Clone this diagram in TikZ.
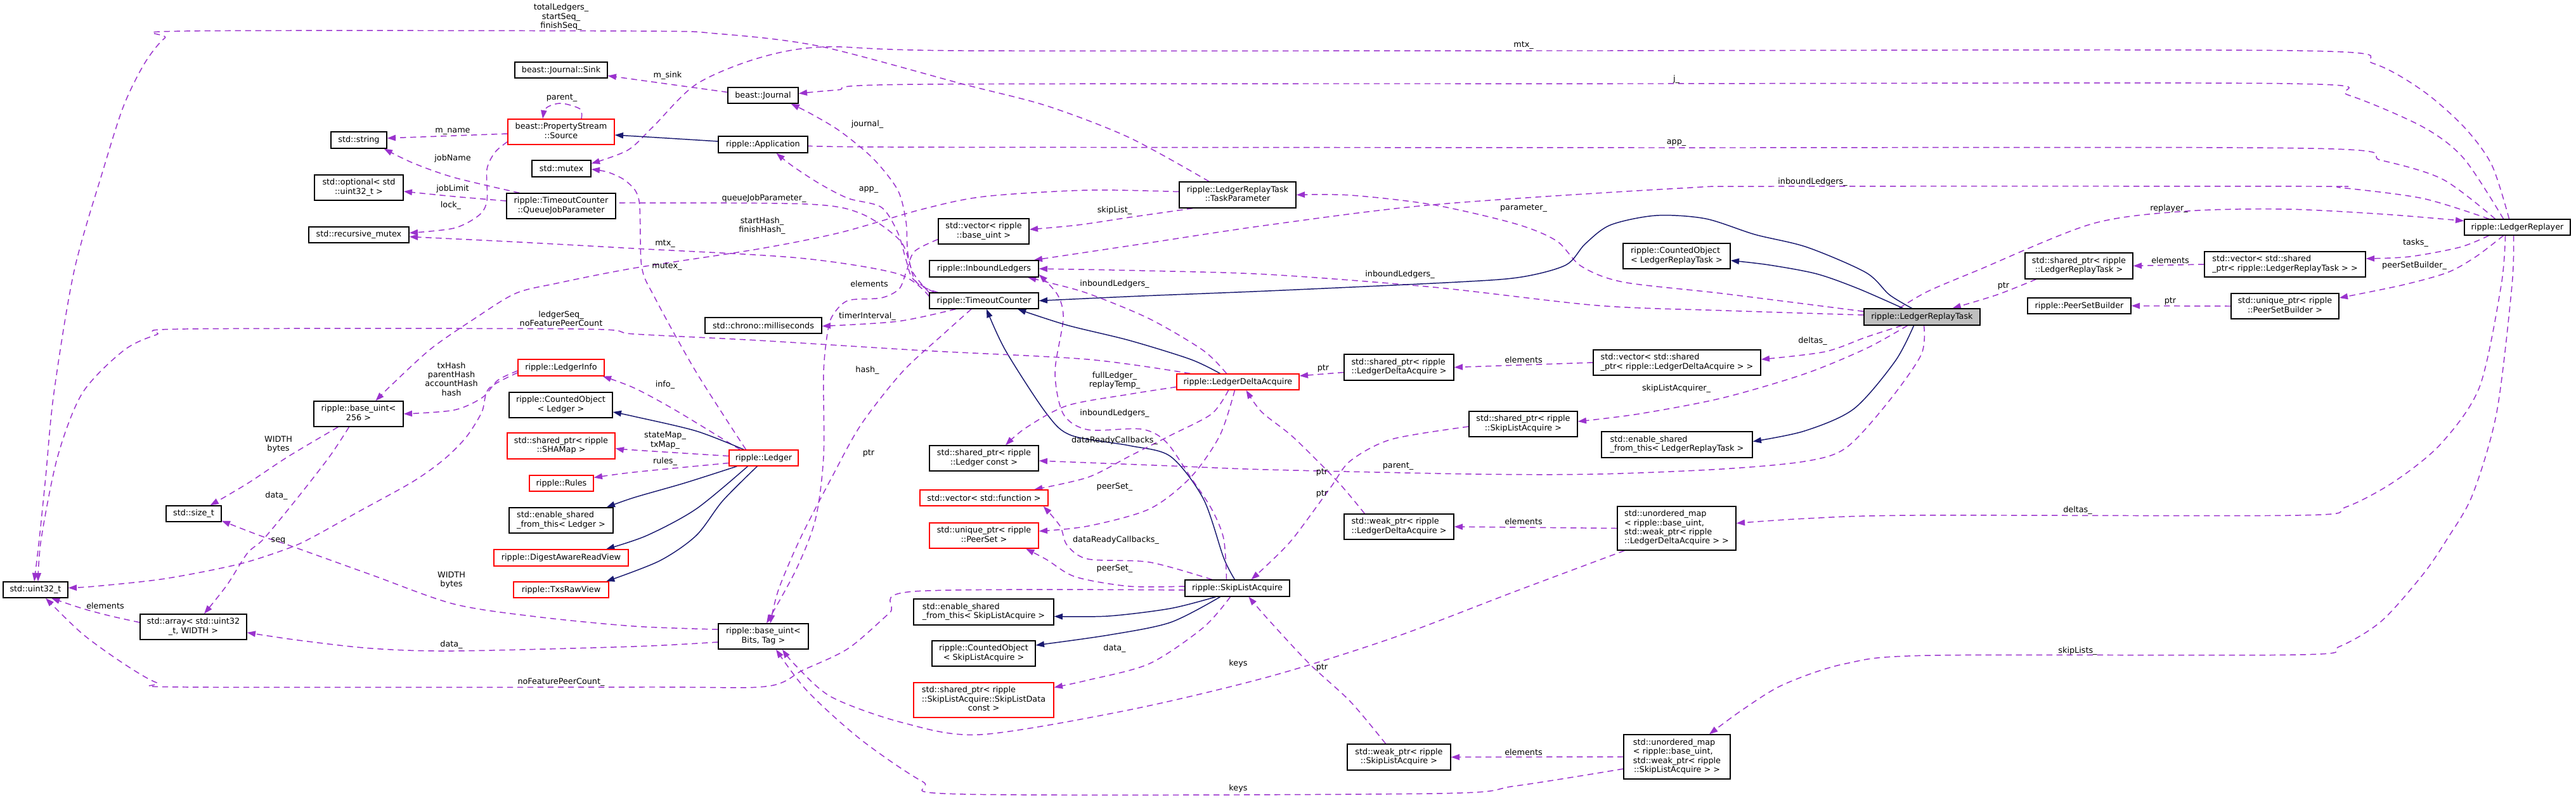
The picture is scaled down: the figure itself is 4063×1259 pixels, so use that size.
\documentclass[tikz,border=0pt]{standalone}
\usepackage{fontspec}
\setmainfont{DejaVu Sans}
\usetikzlibrary{arrows.meta,calc}
\definecolor{dorch}{HTML}{9A32CD}
\definecolor{navyc}{HTML}{191970}
\definecolor{grayf}{HTML}{BFBFBF}
\pgfdeclarelayer{bg}
\pgfsetlayers{bg,main}
\newcommand\ml[2]{\begin{tabular}{@{}l@{}}#1\\\multicolumn{1}{@{}c@{}}{#2}\end{tabular}}
\newcommand\nd[7][box]{\node[#1, minimum width={(#5-#3)*0.75pt}, minimum height={(#6-#4)*0.75pt}] (#2) at ({(#3+#5)/2},{(#4+#6)/2}) {#7};}
\tikzset{
  box/.style={draw=black, fill=white, line width=1pt, inner sep=0pt, font=\fontsize{9.6}{10.8}\selectfont},
  rbox/.style={box, draw=red},
  gbox/.style={box, fill=grayf},
  lbl/.style={inner sep=0pt, align=center, font=\fontsize{9.6}{10.8}\selectfont},
  dep/.style={draw=dorch, line width=1.1pt, dash pattern=on 7pt off 5pt, -{Triangle[length=10pt,width=7pt]}},
  inh/.style={draw=navyc, line width=1.1pt, -{Triangle[length=10pt,width=7pt]}},
}
\begin{document}
\begin{tikzpicture}[x=0.75pt,y=-0.75pt]
\useasboundingbox (0,0) rectangle (4063,1259);
\begin{pgfonlayer}{bg}
\fill[white] (0,0) rectangle (4063,1259);
\end{pgfonlayer}
% nodes
\nd{uint}{5}{918}{107}{943}{std::uint32\_t}
\nd{array}{221}{969}{389}{1009}{\ml{std::array< std::uint32}{\_t, WIDTH >}}
\nd{sizet}{262}{798}{349}{823}{std::size\_t}
\nd{bu256}{495}{633}{636}{673}{\ml{ripple::base\_uint<}{256 >}}
\nd{str}{522}{208}{610}{234}{std::string}
\nd{opt}{496}{276}{636}{316}{\ml{std::optional< std}{::uint32\_t >}}
\nd{rmutex}{487}{358}{645}{383}{std::recursive\_mutex}
\nd{sink}{812}{98}{958}{123}{beast::Journal::Sink}
\nd[rbox]{src}{801}{188}{969}{228}{\ml{beast::PropertyStream}{::Source}}
\nd{mutex}{839}{253}{932}{279}{std::mutex}
\nd{qjp}{799}{305}{971}{345}{\ml{ripple::TimeoutCounter}{::QueueJobParameter}}
\nd[rbox]{linfo}{817}{567}{953}{593}{ripple::LedgerInfo}
\nd{colg}{803}{619}{966}{659}{\ml{ripple::CountedObject}{< Ledger >}}
\nd[rbox]{shamap}{800}{683}{970}{724}{\ml{std::shared\_ptr< ripple}{::SHAMap >}}
\nd[rbox]{rules}{835}{750}{936}{775}{ripple::Rules}
\nd{esl}{803}{801}{967}{841}{\ml{std::enable\_shared}{\_from\_this< Ledger >}}
\nd[rbox]{darv}{779}{867}{991}{893}{ripple::DigestAwareReadView}
\nd[rbox]{trv}{810}{918}{960}{943}{ripple::TxsRawView}
\nd{journal}{1148}{138}{1259}{163}{beast::Journal}
\nd{app}{1133}{215}{1274}{241}{ripple::Application}
\nd{ms}{1112}{501}{1296}{526}{std::chrono::milliseconds}
\nd[rbox]{ledger}{1150}{710}{1259}{735}{ripple::Ledger}
\nd{bubt}{1133}{984}{1275}{1024}{\ml{ripple::base\_uint<}{Bits, Tag >}}
\nd{vbu}{1480}{345}{1623}{385}{\ml{std::vector< ripple}{::base\_uint >}}
\nd{il}{1466}{411}{1638}{437}{ripple::InboundLedgers}
\nd{tc}{1466}{462}{1638}{487}{ripple::TimeoutCounter}
\nd{slc}{1466}{703}{1638}{743}{\ml{std::shared\_ptr< ripple}{::Ledger const >}}
\nd[rbox]{vf}{1451}{773}{1653}{798}{std::vector< std::function >}
\nd[rbox]{ups}{1466}{825}{1638}{865}{\ml{std::unique\_ptr< ripple}{::PeerSet >}}
\nd{esla}{1441}{945}{1662}{986}{\ml{std::enable\_shared}{\_from\_this< SkipListAcquire >}}
\nd{cosla}{1470}{1011}{1633}{1051}{\ml{ripple::CountedObject}{< SkipListAcquire >}}
\nd[rbox]{spd}{1441}{1077}{1662}{1132}{\ml{std::shared\_ptr< ripple\\::SkipListAcquire::SkipListData}{const >}}
\nd{tp}{1860}{287}{2044}{328}{\ml{ripple::LedgerReplayTask}{::TaskParameter}}
\nd[rbox]{lda}{1856}{590}{2049}{615}{ripple::LedgerDeltaAcquire}
\nd{sla}{1869}{915}{2034}{941}{ripple::SkipListAcquire}
\nd{splda}{2120}{559}{2293}{600}{\ml{std::shared\_ptr< ripple}{::LedgerDeltaAcquire >}}
\nd{wplda}{2120}{811}{2293}{851}{\ml{std::weak\_ptr< ripple}{::LedgerDeltaAcquire >}}
\nd{wpsla}{2125}{1174}{2288}{1215}{\ml{std::weak\_ptr< ripple}{::SkipListAcquire >}}
\nd{spsla}{2317}{649}{2488}{689}{\ml{std::shared\_ptr< ripple}{::SkipListAcquire >}}
\nd{vlda}{2513}{552}{2777}{592}{\ml{std::vector< std::shared}{\_ptr< ripple::LedgerDeltaAcquire > >}}
\nd{eslrt}{2526}{681}{2764}{722}{\ml{std::enable\_shared}{\_from\_this< LedgerReplayTask >}}
\nd{umlda}{2551}{799}{2738}{868}{\ml{std::unordered\_map\\< ripple::base\_uint,\\ std::weak\_ptr< ripple}{::LedgerDeltaAcquire > >}}
\nd{umsla}{2561}{1159}{2729}{1229}{\ml{std::unordered\_map\\< ripple::base\_uint,\\ std::weak\_ptr< ripple}{::SkipListAcquire > >}}
\nd{colrt}{2560}{384}{2729}{424}{\ml{ripple::CountedObject}{< LedgerReplayTask >}}
\nd[gbox]{lrt}{2940}{487}{3123}{513}{ripple::LedgerReplayTask}
\nd{splrt}{3194}{399}{3364}{440}{\ml{std::shared\_ptr< ripple}{::LedgerReplayTask >}}
\nd{psb}{3198}{470}{3361}{495}{ripple::PeerSetBuilder}
\nd{vlrt}{3477}{397}{3731}{437}{\ml{std::vector< std::shared}{\_ptr< ripple::LedgerReplayTask > >}}
\nd{upsb}{3519}{463}{3689}{503}{\ml{std::unique\_ptr< ripple}{::PeerSetBuilder >}}
\nd{lr}{3887}{346}{4054}{371}{ripple::LedgerReplayer}
% edges
\begin{pgfonlayer}{bg}
\draw[dep] plot[smooth] coordinates {($(lr.north)+(-13,0)$) (3930,260) (3886,200) (3821,143) (3743,100) (3626,80) (2500,80) (1520,80) (1300,74) (1195,92) (1098,133) (1030,200) (990,237) ($(mutex.east)+(0,-8)$)};
\draw[dep] plot[smooth] coordinates {($(lr.north)+(-22,0)$) (3886,250) (3821,200) (3704,150) (3613,132) (2600,132) (1455,133) (1320,142) ($(journal.east)+(0,-3)$)};
\draw[dep] plot[smooth] coordinates {($(lr.north)+(-35,0)$) (3853,283) (3756,253) (3640,234) (2600,233) (1400,232) (app.east)};
\draw[dep] plot[smooth] coordinates {($(lr.north)+(-45,0)$) (3821,313) (3691,296) (3640,294) (2800,294) (2650,297) (2260,323) (2000,355) (1800,385) ($(il.north east)+(-8,0)$)};
\draw[dep] plot[smooth] coordinates {($(lrt.north)+(-36,0)$) (3040,460) (3118,427) (3300,353) (3450,333) (3606,330) (3760,338) ($(lr.west)+(0,-10)$)};
\draw[dep] plot[smooth] coordinates {($(lr.south)+(-45,0)$) (3880,390) (3800,405) ($(vlrt.east)+(0,-9)$)};
\draw[dep] (vlrt.west) -- (splrt.east);
\draw[dep] plot[smooth] coordinates {($(splrt.south west)+(18,0)$) (3150,465) ($(lrt.north)+(48,0)$)};
\draw[dep] plot[smooth] coordinates {($(lr.south)+(-22,0)$) (3905,405) (3860,430) (3788,450) ($(upsb.east)+(0,-13)$)};
\draw[dep] (upsb.west) -- (psb.east);
\draw[dep] plot[smooth] coordinates {($(lr.south)+(-19,0)$) (3945,450) (3911,610) (3850,700) (3776,760) (3700,800) (3626,813) (3020,813) (2850,818) ($(umlda.east)+(0,-8)$)};
\draw[dep] plot[smooth] coordinates {($(lr.south)+(-6,0)$) (3962,450) (3938,650) (3900,780) (3860,850) (3821,907) (3756,980) (3690,1020) (3626,1033) (3046,1034) (2911,1047) (2813,1080) (2748,1120) ($(umsla.north)+(51,0)$)};
\draw[dep] plot[smooth] coordinates {($(lrt.west)+(0,-3)$) (2720,490) (2520,482) (2260,453) (2000,433) (1800,427) (il.east)};
\draw[dep] plot[smooth] coordinates {($(lrt.north west)+(0,5)$) (2716,463) (2560,445) (2494,420) (2455,380) (2390,353) (2260,323) (2130,308) (tp.east)};
\draw[inh] plot[smooth] coordinates {($(lrt.north)+(-16,0)$) (2980,465) (2943,430) (2850,390) (2768,370) (2690,345) (2612,340) (2540,355) (2500,385) (2470,418) (2400,437) (2299,445) (2000,459) (1800,467) (tc.east)};
\draw[inh] plot[smooth] coordinates {($(lrt.north)+(-30,0)$) (2930,455) (2865,432) (2790,418) ($(colrt.east)+(0,7)$)};
\draw[dep] plot[smooth] coordinates {($(lrt.south)+(-32,0)$) (2943,532) (2878,555) ($(vlda.east)+(0,-5)$)};
\draw[dep] plot[smooth] coordinates {($(lrt.south)+(-23,0)$) (2943,550) (2846,590) (2716,628) (2585,653) ($(spsla.east)+(0,-4)$)};
\draw[inh] plot[smooth] coordinates {($(lrt.south)+(-13,0)$) (2989,570) (2924,645) (2846,680) ($(eslrt.east)+(0,-5)$)};
\draw[dep] plot[smooth] coordinates {($(lrt.south)+(3,0)$) (3030,560) (2976,637) (2911,707) (2846,728) (2716,740) (2520,748) (2325,748) (2000,741) (1846,735) ($(slc.east)+(0,4)$)};
\draw[dep] (vlda.west) -- (splda.east);
\draw[dep] ($(splda.west)+(0,8)$) -- ($(lda.east)+(0,-9.5)$);
\draw[dep] (umlda.west) -- (wplda.east);
\draw[dep] plot[smooth] coordinates {($(wplda.north west)+(33,0)$) (2110,760) (2040,690) (1990,650) ($(lda.south)+(13,0)$)};
\draw[dep] plot[smooth] coordinates {($(spsla.west)+(0,4)$) (2195,693) (2130,727) (2098,770) (2039,850) (2000,890) ($(sla.north)+(22,0)$)};
\draw[dep] (umsla.west) -- (wpsla.east);
\draw[dep] plot[smooth] coordinates {($(wpsla.north)+(-21,0)$) (2130,1107) (2065,1047) (2000,977) ($(sla.south)+(18,0)$)};
\draw[dep] plot[smooth] coordinates {($(umlda.south west)+(12,0)$) (2390,933) (2195,1007) (2000,1068) (1781,1120) (1546,1159) (1423,1140) (1312,1100) (1255,1050) ($(bubt.south)+(30,0)$)};
\draw[dep] plot[smooth] coordinates {($(umsla.west)+(0,19)$) (2390,1240) (2260,1252) (1520,1253) (1455,1233) (1358,1167) (1273,1090) ($(bubt.south)+(20,0)$)};
\draw[inh] plot[smooth] coordinates {($(sla.north)+(-4,0)$) (1930,880) (1898,787) (1846,720) (1781,703) (1690,687) (1651,653) (1586,553) ($(tc.south)+(4,0)$)};
\draw[inh] plot[smooth] coordinates {($(sla.south)+(-34,0)$) (1846,960) (1748,972) ($(esla.east)+(0,7)$)};
\draw[inh] plot[smooth] coordinates {($(sla.south)+(-27,0)$) (1846,982) (1748,1002) ($(cosla.east)+(0,-13)$)};
\draw[dep] plot[smooth] coordinates {($(sla.south)+(-11,0)$) (1898,990) (1813,1047) (1716,1073) ($(spd.east)+(0,-20)$)};
\draw[dep] plot[smooth] coordinates {($(sla.west)+(0,-3)$) (1781,925) (1696,910) (1651,883) ($(ups.south)+(66,0)$)};
\draw[dep] plot[smooth] coordinates {($(sla.north)+(-40,0)$) (1813,887) (1716,882) (1683,860) (1672,830) ($(vf.south east)+(-8,0)$)};
\draw[dep] plot[smooth] coordinates {($(sla.north)+(-17,0)$) (1930,850) (1911,803) (1878,753) (1839,697) (1800,677) (1716,678) (1677,653) (1664,587) (1677,503) (1668,465) ($(il.east)+(0,9)$)};
\draw[inh] plot[smooth] coordinates {($(lda.north)+(-28,0)$) (1878,567) (1781,537) (1683,513) ($(tc.south)+(53,0)$)};
\draw[dep] plot[smooth] coordinates {($(lda.north)+(-18,0)$) (1898,553) (1813,503) (1716,463) (1651,445) ($(il.south)+(69,0)$)};
\draw[dep] plot[smooth] coordinates {($(lda.north west)+(22,0)$) (1716,567) (1455,553) (1195,537) (1000,527) (911,519) (293,519) (247,528) (195,553) (130,620) (91,720) (65,850) ($(uint.north)+(4,0)$)};
\draw[dep] plot[smooth] coordinates {($(lda.west)+(0,8)$) (1781,622) (1683,640) (1618,675) ($(slc.north)+(34,0)$)};
\draw[dep] plot[smooth] coordinates {($(lda.south)+(-15,0)$) (1911,653) (1846,687) (1781,720) (1716,753) ($(vf.north)+(79,0)$)};
\draw[dep] plot[smooth] coordinates {($(lda.south)+(-5,0)$) (1924,687) (1878,753) (1813,803) (1716,830) ($(ups.east)+(0,-7)$)};
\draw[dep] plot[smooth] coordinates {(tc.north west) (1440,430) (1420,380) (1358,337) (1273,322) (1000,320) ($(qjp.east)+(0,-4)$)};
\draw[dep] plot[smooth] coordinates {($(tc.north west)+(0,6)$) (1416,432) (1260,407) (1000,392) (800,381) ($(rmutex.east)+(0,3)$)};
\draw[dep] plot[smooth] coordinates {($(tc.north west)+(8,0)$) (1440,440) (1429,410) (1416,367) (1390,327) (1338,313) (1293,290) (1250,262) ($(app.south)+(21,0)$)};
\draw[dep] plot[smooth] coordinates {($(tc.north west)+(14,0)$) (1445,445) (1432,400) (1429,350) (1416,300) (1377,250) (1325,207) (1280,180) ($(journal.south)+(44,0)$)};
\draw[dep] plot[smooth] coordinates {($(tc.south west)+(42,0)$) (1416,507) ($(ms.east)+(0,1)$)};
\draw[dep] plot[smooth] coordinates {($(tc.south)+(-20,0)$) (1488,527) (1423,587) (1358,670) (1312,753) (1262,850) (1228,930) ($(bubt.north)+(11,0)$)};
\draw[dep] plot[smooth] coordinates {($(vbu.south west)+(0,-8)$) (1442,397) (1429,430) (1418,456) (1390,470) (1338,474) (1315,495) (1306,520) (1299,587) (1299,720) (1286,820) (1255,900) ($(bubt.north)+(5,0)$)};
\draw[dep] plot[smooth] coordinates {($(tp.north)+(-45,0)$) (1781,217) (1651,167) (1520,133) (1293,73) (1130,53) (1000,49) (293,49) (260,60) (228,100) (195,167) (163,267) (117,427) (85,620) (72,753) (62,850) ($(uint.north)+(-2,0)$)};
\draw[dep] plot[smooth] coordinates {($(tp.west)+(0,-5)$) (1716,300) (1553,310) (1455,330) (1325,367) (1195,393) (1000,423) (878,447) (813,463) (748,503) (680,550) (620,605) ($(bu256.north)+(27,0)$)};
\draw[dep] plot[smooth] coordinates {($(tp.south west)+(22,0)$) (1781,343) (1700,355) ($(vbu.east)+(0,-3)$)};
\draw[inh] plot[smooth] coordinates {($(app.west)+(0,-5)$) (1020,216) ($(src.east)+(0,5)$)};
\draw[dep] ($(journal.west)+(0,-5)$) -- ($(sink.east)+(0,9)$);
\draw[dep] ($(src.west)+(0,3)$) -- ($(str.east)+(0,-3)$);
\draw[dep] plot[smooth] coordinates {($(src.north)+(32,0)$) (915,172) (885,163) (862,170) ($(src.north)+(-29,0)$)};
\draw[dep] plot[smooth] coordinates {($(src.south west)+(0,-5)$) (781,240) (768,267) (768,317) (755,340) (716,360) ($(rmutex.east)+(0,-3)$)};
\draw[dep] plot[smooth] coordinates {($(qjp.north west)+(21,0)$) (716,280) (651,257) ($(str.south east)+(-5,0)$)};
\draw[dep] plot[smooth] coordinates {($(qjp.west)+(0,-8)$) (716,310) ($(opt.east)+(0,6)$)};
\draw[dep] plot[smooth] coordinates {($(ledger.north)+(-28,0)$) (1098,587) (1033,470) (1012,420) (1008,317) (989,287) (960,272) ($(mutex.east)+(0,1)$)};
\draw[dep] plot[smooth] coordinates {($(ledger.north west)+(18,0)$) (1065,647) (1000,612) ($(linfo.south east)+(-3,0)$)};
\draw[dep] plot[smooth] coordinates {($(ledger.west)+(0,-3)$) (1000,710) ($(shamap.east)+(0,4)$)};
\draw[dep] plot[smooth] coordinates {($(ledger.west)+(0,8)$) (1000,745) ($(rules.east)+(0,-9)$)};
\draw[inh] plot[smooth] coordinates {($(ledger.north west)+(24,0)$) (1098,680) (1000,657) ($(colg.east)+(0,11)$)};
\draw[inh] plot[smooth] coordinates {($(ledger.south west)+(13,0)$) (1080,762) (1000,785) ($(esl.north east)+(-11,0)$)};
\draw[inh] plot[smooth] coordinates {($(ledger.south west)+(30,0)$) (1098,803) (1020,845) ($(darv.north)+(71,0)$)};
\draw[inh] plot[smooth] coordinates {($(ledger.south west)+(45,0)$) (1140,790) (1098,845) (1040,885) ($(trv.north)+(71,0)$)};
\draw[dep] plot[smooth] coordinates {($(linfo.west)+(0,5)$) (785,600) (761,627) (716,647) (bu256.east)};
\draw[dep] plot[smooth] coordinates {($(linfo.west)+(0,8)$) (771,613) (760,650) (735,690) (700,725) (651,760) (566,807) (494,847) (455,865) (377,890) (260,913) (150,925) ($(uint.east)+(0,-3)$)};
\draw[dep] plot[smooth] coordinates {($(bu256.south west)+(39,0)$) (455,720) (390,763) ($(sizet.north)+(26,0)$)};
\draw[dep] plot[smooth] coordinates {($(bu256.south)+(-15,0)$) (520,720) (468,787) (416,850) (390,873) (358,923) ($(array.north)+(17,0)$)};
\draw[dep] plot[smooth] coordinates {($(bubt.west)+(0,-11)$) (1000,988) (846,973) (716,953) (586,907) (455,860) (410,845) ($(sizet.south east)+(0,-2)$)};
\draw[dep] plot[smooth] coordinates {($(bubt.west)+(0,9)$) (1000,1020) (716,1027) (586,1023) (470,1010) ($(array.east)+(0,9)$)};
\draw[dep] plot[smooth] coordinates {($(array.west)+(0,-7)$) (175,972) (130,960) ($(uint.south)+(25,0)$)};
\draw[dep] plot[smooth] coordinates {($(sla.west)+(0,3)$) (1442,933) (1403,967) (1338,1023) (1267,1057) (1208,1083) (1020,1084) (293,1084) (247,1077) (195,1047) (130,1000) ($(uint.south)+(16,0)$)};
\end{pgfonlayer}
% labels
\node[lbl] (l1) at (885,27) {totalLedgers\_\\startSeq\_\\finishSeq\_};
\node[lbl] (l2) at (1053,119) {m\_sink};
\node[lbl] (l3) at (886,155) {parent\_};
\node[lbl] (l4) at (714,207) {m\_name};
\node[lbl] (l5) at (714,250) {jobName};
\node[lbl] (l6) at (714,298) {jobLimit};
\node[lbl] (l7) at (711,324) {lock\_};
\node[lbl] (l8) at (1368,196) {journal\_};
\node[lbl] (l9) at (1370,299) {app\_};
\node[lbl] (l10) at (1205,313) {queueJobParameter\_};
\node[lbl] (l11) at (1202,356) {startHash\_\\finishHash\_};
\node[lbl] (l12) at (1049,385) {mtx\_};
\node[lbl] (l13) at (1052,421) {mutex\_};
\node[lbl] (l14) at (1758,332) {skipList\_};
\node[lbl] (l15) at (2403,72) {mtx\_};
\node[lbl] (l16) at (2644,125) {j\_};
\node[lbl] (l17) at (2644,225) {app\_};
\node[lbl] (l18) at (2859,287) {inboundLedgers\_};
\node[lbl] (l19) at (2403,329) {parameter\_};
\node[lbl] (l20) at (3421,329) {replayer\_};
\node[lbl] (l21) at (3810,383) {tasks\_};
\node[lbl] (l22) at (3423,411) {elements};
\node[lbl] (l23) at (3808,419) {peerSetBuilder\_};
\node[lbl] (l24) at (3160,451) {ptr};
\node[lbl] (l25) at (3423,475) {ptr};
\node[lbl] (l26) at (2208,433) {inboundLedgers\_};
\node[lbl] (l27) at (1371,448) {elements};
\node[lbl] (l28) at (1758,448) {inboundLedgers\_};
\node[lbl] (l29) at (1368,499) {timerInterval\_};
\node[lbl] (l30) at (885,503) {ledgerSeq\_\\noFeaturePeerCount};
\node[lbl] (l31) at (1368,584) {hash\_};
\node[lbl] (l32) at (712,598) {txHash\\parentHash\\accountHash\\hash};
\node[lbl] (l33) at (1049,607) {info\_};
\node[lbl] (l34) at (1758,600) {fullLedger\_\\replayTemp\_};
\node[lbl] (l35) at (2403,568) {elements};
\node[lbl] (l36) at (2087,581) {ptr};
\node[lbl] (l37) at (2859,538) {deltas\_};
\node[lbl] (l38) at (2644,613) {skipListAcquirer\_};
\node[lbl] (l39) at (1758,652) {inboundLedgers\_};
\node[lbl] (l40) at (1049,695) {stateMap\_\\txMap\_};
\node[lbl] (l41) at (439,701) {WIDTH\\bytes};
\node[lbl] (l42) at (1758,695) {dataReadyCallbacks\_};
\node[lbl] (l43) at (1370,715) {ptr};
\node[lbl] (l44) at (1049,728) {rules\_};
\node[lbl] (l45) at (2205,736) {parent\_};
\node[lbl] (l46) at (2085,745) {ptr};
\node[lbl] (l47) at (1758,768) {peerSet\_};
\node[lbl] (l48) at (2085,779) {ptr};
\node[lbl] (l49) at (436,782) {data\_};
\node[lbl] (l50) at (3277,805) {deltas\_};
\node[lbl] (l51) at (2403,823) {elements};
\node[lbl] (l52) at (1760,852) {dataReadyCallbacks\_};
\node[lbl] (l53) at (439,853) {seq};
\node[lbl] (l54) at (1758,897) {peerSet\_};
\node[lbl] (l55) at (712,915) {WIDTH\\bytes};
\node[lbl] (l56) at (166,956) {elements};
\node[lbl] (l57) at (712,1017) {data\_};
\node[lbl] (l58) at (1758,1023) {data\_};
\node[lbl] (l59) at (3277,1027) {skipLists\_};
\node[lbl] (l60) at (1953,1047) {keys};
\node[lbl] (l61) at (2085,1053) {ptr};
\node[lbl] (l62) at (885,1076) {noFeaturePeerCount\_};
\node[lbl] (l63) at (2403,1187) {elements};
\node[lbl] (l64) at (1953,1244) {keys};
\end{tikzpicture}
\end{document}
